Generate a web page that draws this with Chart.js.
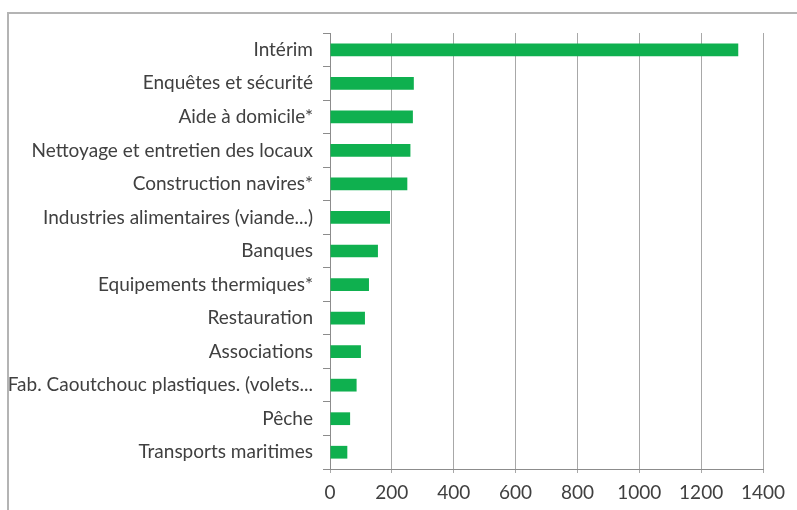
<!DOCTYPE html>
<html>
<head>
<meta charset="utf-8">
<script src="https://cdn.jsdelivr.net/npm/chart.js@4.4.1/dist/chart.umd.min.js"></script>
<style>
  html, body { margin: 0; padding: 0; background: #ffffff; }
  #wrap { position: relative; width: 797px; height: 510px; overflow: hidden; }
  #frame { position: absolute; left: 7px; top: 12px; width: 800px; height: 510px;
           border-left: 2px solid #b4b4b4; border-top: 2px solid #b4b4b4; pointer-events: none; }
  canvas { position: absolute; left: 0; top: 0; }
</style>
</head>
<body>
<div id="wrap">
  <canvas id="bars" width="797" height="510"></canvas>
  <div id="frame"></div>
</div>
<script>
var secteurs = [
    "Intérim",
    "Enquêtes et sécurité",
    "Aide à domicile*",
    "Nettoyage et entretien des locaux",
    "Construction navires*",
    "Industries alimentaires (viande...)",
    "Banques",
    "Equipements thermiques*",
    "Restauration",
    "Associations",
    "Fab. Caoutchouc plastiques. (volets...",
    "Pêche",
    "Transports maritimes"
];

var valeurs = [1320, 271, 268, 260, 250, 194, 155, 126, 113, 100, 86, 65, 56];

var xTicks = [0, 200, 400, 600, 800, 1000, 1200, 1400];

var ctx = document.getElementById("bars").getContext("2d");

new Chart(ctx, {
    type: 'bar',
    data: {
        labels: secteurs,
        datasets: [{
            data: valeurs,
            backgroundColor: "#0fb04f",
            borderWidth: 0,
            barPercentage: 0.38,
            categoryPercentage: 1
        }]
    },
    options: {
        indexAxis: 'y',
        responsive: false,
        animation: false,
        layout: {
            padding: { top: 33, right: 34, bottom: 0, left: 0 }
        },
        plugins: {
            legend: { display: false },
            tooltip: { enabled: false }
        },
        scales: {
            x: {
                min: 0,
                max: 1400,
                afterBuildTicks: function (scale) {
                    scale.ticks = xTicks.map(function (v) { return { value: v }; });
                },
                afterFit: function (scale) { scale.height = 41; },
                grid: { color: "#a8a8a8", lineWidth: 1, tickLength: 4 },
                border: { color: "#8c8c8c" },
                ticks: {
                    color: "#404040",
                    font: { family: "Lato", size: 19 },
                    padding: 8,
                    maxRotation: 0,
                    callback: function (v) { return String(v); }
                }
            },
            y: {
                afterFit: function (scale) { scale.width = 330; },
                grid: { offset: true, drawOnChartArea: false, tickLength: 7, color: "#8c8c8c" },
                border: { color: "#8c8c8c" },
                ticks: {
                    color: "#404040",
                    font: { family: "Lato", size: 19 },
                    padding: 10,
                    autoSkip: false
                }
            }
        }
    }
});
</script>
</body>
</html>
